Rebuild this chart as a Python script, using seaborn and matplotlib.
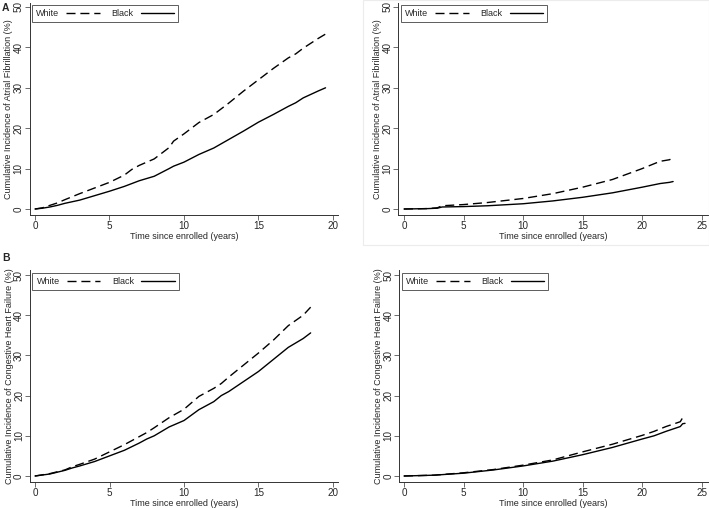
import pandas as pd
import seaborn as sns
import matplotlib.pyplot as plt
from matplotlib.patches import Rectangle

# Values (cumulative incidence, %)
af_left_time = [0, 0.5, 1, 1.5, 2, 3, 4, 5, 6, 6.5, 7, 8, 9, 9.3, 10, 11, 12, 13,
                14, 15, 16, 17, 17.5, 18, 19, 19.5]
af_left_white = [0, 0.3, 0.9, 1.5, 2.3, 3.8, 5.2, 6.6, 8.4, 9.8, 10.8, 12.4, 15.2,
                 16.8, 18.6, 21.4, 23.4, 26.2, 29.2, 32.0, 34.8, 37.4, 38.4, 39.8,
                 42.2, 43.3]
af_left_black = [0, 0.2, 0.5, 0.9, 1.4, 2.2, 3.3, 4.4, 5.6, 6.3, 7.0, 8.1, 10.0,
                 10.6, 11.6, 13.5, 15.1, 17.2, 19.3, 21.5, 23.4, 25.4, 26.3, 27.5,
                 29.2, 30.0]

af_right_time = [0, 1, 2, 2.8, 3.2, 5, 7, 10, 12.5, 15, 17.5, 20, 21.5, 22.3, 22.6]
af_right_white = [0, 0.05, 0.1, 0.3, 0.8, 1.1, 1.6, 2.6, 3.8, 5.4, 7.3, 10.0, 11.8,
                  12.2, 12.7]
af_right_black = [0, 0.05, 0.1, 0.2, 0.5, 0.6, 0.8, 1.3, 2.0, 2.9, 4.0, 5.4, 6.3,
                  6.6, 6.8]

chf_left_time = [0, 1, 2, 2.5, 3, 4, 5, 6, 7, 7.5, 8, 9, 10, 11, 12, 12.5, 13, 14,
                 15, 16, 17, 18, 18.5]
chf_left_white = [0, 0.6, 1.5, 2.3, 2.9, 4.2, 6.0, 7.8, 9.8, 10.8, 12.0, 14.5, 16.6,
                  19.8, 21.8, 23.0, 24.6, 27.6, 30.6, 33.8, 37.4, 40.0, 42.0]
chf_left_black = [0, 0.5, 1.4, 2.0, 2.5, 3.6, 5.0, 6.4, 8.2, 9.2, 10.0, 12.2, 13.8,
                  16.5, 18.5, 20.0, 21.0, 23.5, 26.0, 29.0, 32.0, 34.2, 35.6]

chf_right_time = [0, 2.5, 5, 7.5, 10, 12.5, 15, 17.5, 20, 21, 22, 23.2, 23.4, 23.6]
chf_right_white = [0, 0.2, 0.8, 1.6, 2.7, 4.0, 6.0, 7.9, 10.1, 11.1, 12.3, 13.5,
                   14.5, 14.6]
chf_right_black = [0, 0.2, 0.7, 1.5, 2.5, 3.7, 5.3, 7.1, 9.2, 10.0, 11.1, 12.3,
                   13.0, 13.1]

groups = ['White', 'Black']
y_ticks = [0, 10, 20, 30, 40, 50]
af_label = 'Cumulative Incidence of Atrial Fibrillation (%)'
chf_label = 'Cumulative Incidence of Congestive Heart Failure (%)'
x_label = 'Time since enrolled (years)'

sns.set_style('ticks')
plt.rcParams['font.family'] = ['Liberation Sans', 'DejaVu Sans']

W, H = 709, 508
fig = plt.figure(figsize=(W / 100, H / 100), dpi=100)


def make_axes(left, right, top, bottom):
    return fig.add_axes([left / W, 1 - bottom / H, (right - left) / W, (bottom - top) / H])


def long_form(time, white, black):
    return pd.DataFrame({
        'time': time + time,
        'value': white + black,
        'race': ['White'] * len(time) + ['Black'] * len(time),
    })


def draw_panel(ax, df, ylabel, xticks, xlim, ylim):
    sns.lineplot(data=df, x='time', y='value', hue='race', style='race',
                 hue_order=groups, style_order=groups,
                 palette={'White': 'black', 'Black': 'black'},
                 dashes={'White': (6.5, 3.5), 'Black': ''},
                 linewidth=1.0, ax=ax)
    ax.set_xlim(xlim)
    ax.set_ylim(ylim)
    ax.set_xticks(xticks)
    ax.set_yticks(y_ticks)
    ax.set_xlabel(x_label, fontsize=6.5, labelpad=0.5)
    ax.set_ylabel(ylabel, fontsize=6.5, labelpad=0.3)
    ax.tick_params(length=3.5, width=0.6, pad=1.2, labelsize=7.1, color='#555555')
    ax.tick_params(axis='y', pad=0.8)
    # Stata style: y tick labels turned to read upwards, sitting on the tick
    for lab in ax.get_yticklabels():
        lab.set_rotation(90)
        lab.set_rotation_mode('anchor')
        lab.set_ha('center')
        lab.set_va('bottom')
    for side in ['left', 'bottom']:
        ax.spines[side].set_linewidth(0.7)
        ax.spines[side].set_color('#333333')
    sns.despine(ax=ax)

    old = ax.get_legend()
    handles = old.legend_handles
    labels = [t.get_text() for t in old.texts]
    leg = ax.legend(handles, labels, loc='upper left', bbox_to_anchor=(0.008, 0.99),
                    borderaxespad=0, ncol=2, markerfirst=False, fontsize=6.5,
                    handlelength=3.7, handletextpad=0.8, columnspacing=1.3,
                    borderpad=0.45, frameon=True, fancybox=False)
    leg.get_frame().set_edgecolor('#333333')
    leg.get_frame().set_linewidth(0.7)


# faint frame around the upper right panel (from the source figure)
fig.add_artist(Rectangle((363 / W, 1 - 245 / H), (W - 363) / W, 245 / H,
                         transform=fig.transFigure, fill=False,
                         edgecolor='#ececec', linewidth=0.8))

ax1 = make_axes(29.5, 338, 3, 214.5)
draw_panel(ax1, long_form(af_left_time, af_left_white, af_left_black), af_label,
           [0, 5, 10, 15, 20], (-0.369, 20.336), (-1.36, 50.99))

ax2 = make_axes(398.3, 707.7, 3, 214.5)
draw_panel(ax2, long_form(af_right_time, af_right_white, af_right_black), af_label,
           [0, 5, 10, 15, 20, 25], (-0.479, 25.504), (-1.36, 50.99))

ax3 = make_axes(30, 338, 270.5, 481.7)
draw_panel(ax3, long_form(chf_left_time, chf_left_white, chf_left_black), chf_label,
           [0, 5, 10, 15, 20], (-0.336, 20.336), (-1.418, 51.12))

ax4 = make_axes(399.3, 707.7, 270.5, 481.7)
draw_panel(ax4, long_form(chf_right_time, chf_right_white, chf_right_black), chf_label,
           [0, 5, 10, 15, 20, 25], (-0.395, 25.504), (-1.418, 51.12))

fig.text(2 / W, 1 - 3 / H, 'A', fontsize=7.5, fontweight='bold', va='top', ha='left')
fig.text(2 / W, 1 - 253 / H, 'B', fontsize=7.5, fontweight='bold', va='top', ha='left')

fig.savefig('out.png', dpi=100)
